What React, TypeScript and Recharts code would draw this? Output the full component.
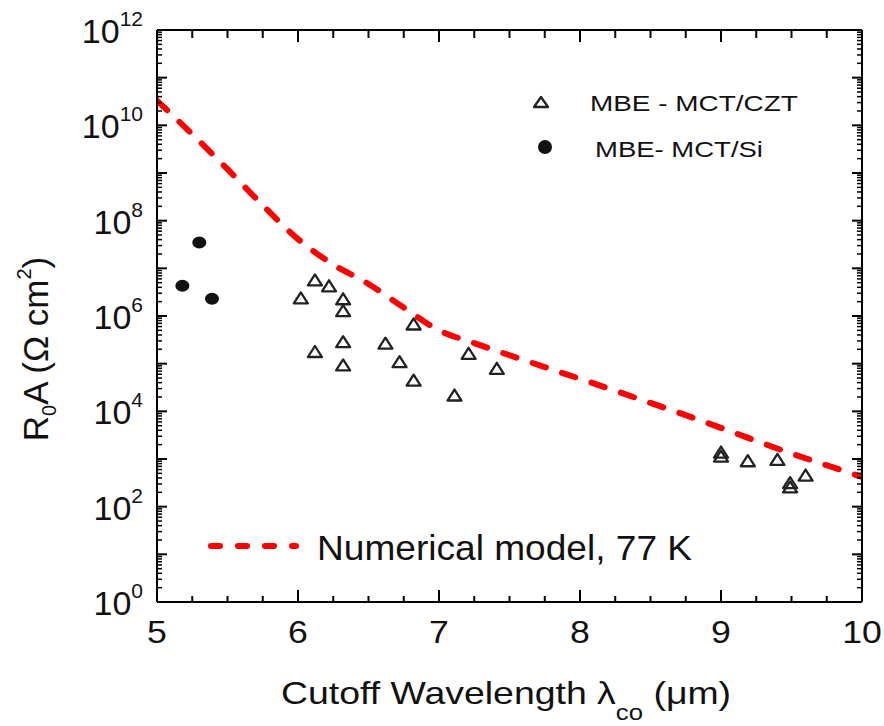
import { ComposedChart, XAxis, YAxis, Line, Scatter, Customized } from 'recharts';

const FONT = '"Liberation Sans", Arial, Helvetica, sans-serif';
const INK = '#111';

// numerical model, 77 K (dashed red curve)
const modelWavelength = [5, 5.25, 5.5, 5.75, 6, 6.25, 6.5, 6.75, 7, 7.25, 7.5, 7.75, 8, 8.25, 8.5, 8.75, 9, 9.25, 9.5, 9.75, 10];
const modelR0A = [3.3e10, 6.5e9, 1.2e9, 2.1e8, 4.1e7, 1.2e7, 4.7e6, 1.5e6, 5.0e5, 2.7e5, 1.5e5, 8.5e4, 4.8e4, 2.7e4, 1.5e4, 8.3e3, 4.5e3, 2.4e3, 1.3e3, 740, 420];

// MBE - MCT/CZT (open triangles)
const cztWavelength = [6.02, 6.12, 6.22, 6.32, 6.32, 6.82, 6.32, 6.62, 6.12, 6.72, 6.32, 7.21, 6.82, 7.41, 7.11, 9.0, 9.0, 9.19, 9.4, 9.49, 9.49, 9.6];
const cztR0A = [2.4e6, 5.7e6, 4.3e6, 2.3e6, 1.3e6, 6.8e5, 2.9e5, 2.7e5, 1.8e5, 1.1e5, 9.4e4, 1.65e5, 4.5e4, 8e4, 2.2e4, 1400, 1150, 920, 980, 320, 260, 460];

// MBE - MCT/Si (filled circles)
const siWavelength = [5.18, 5.3, 5.39];
const siR0A = [4.3e6, 3.5e7, 2.3e6];

// axes
const xTicks = [5, 5.25, 5.5, 5.75, 6, 6.25, 6.5, 6.75, 7, 7.25, 7.5, 7.75, 8, 8.25, 8.5, 8.75, 9, 9.25, 9.5, 9.75, 10];
const yDecades = [0, 1, 2, 3, 4, 5, 6, 7, 8, 9, 10, 11, 12];
const yMinorSteps = [2, 3, 4, 5, 6, 7, 8, 9];

const modelData = modelWavelength.map((x, i) => ({ x, y: modelR0A[i] }));
const cztData = cztWavelength.map((x, i) => ({ x, y: cztR0A[i] }));
const siData = siWavelength.map((x, i) => ({ x, y: siR0A[i] }));

const majorExp = new Map<number, number>();
const yTicks: number[] = [];
yDecades.forEach((e) => {
  const v = 10 ** e;
  majorExp.set(v, e);
  yTicks.push(v);
  if (e < 12) yMinorSteps.forEach((m) => yTicks.push(m * v));
});
yTicks.sort((a, b) => a - b);

const LeftYTick = ({ x, y, payload }: any) => {
  const exp = majorExp.get(payload.value);
  const major = exp !== undefined;
  return (
    <g>
      <line x1={x} x2={x + (major ? 10 : 5)} y1={y} y2={y} stroke="#000" strokeWidth={major ? 2 : 1.5} />
      {major && exp % 2 === 0 && (
        <text x={x - 14} y={y + 13} textAnchor="end" fontFamily={FONT} fill={INK}>
          <tspan fontSize={34}>10</tspan>
          <tspan fontSize={21} dy={-17}>{exp}</tspan>
        </text>
      )}
    </g>
  );
};

const RightYTick = ({ x, y, payload }: any) => {
  const major = majorExp.has(payload.value);
  return <line x1={x} x2={x - (major ? 10 : 5)} y1={y} y2={y} stroke="#000" strokeWidth={major ? 2 : 1.5} />;
};

const BottomXTick = ({ x, y, payload }: any) => {
  const major = Number.isInteger(payload.value);
  return (
    <g>
      <line x1={x} x2={x} y1={y} y2={y - (major ? 12 : 6)} stroke="#000" strokeWidth={2} />
      {major && (
        <text transform={`translate(${x},${y + 41}) scale(1.15,1)`} textAnchor="middle" fontSize={31} fontFamily={FONT} fill={INK}>
          {payload.value}
        </text>
      )}
    </g>
  );
};

const TopXTick = ({ x, y, payload }: any) => {
  const major = Number.isInteger(payload.value);
  return <line x1={x} x2={x} y1={y} y2={y + (major ? 12 : 8)} stroke="#000" strokeWidth={2} />;
};

const Triangle = ({ cx, cy }: any) => (
  <path d={`M${cx},${cy - 5.5} L${cx + 7},${cy + 5.5} L${cx - 7},${cy + 5.5} Z`} fill="none" stroke="#222" strokeWidth={2.3} strokeLinejoin="round" />
);

const Dot = ({ cx, cy }: any) => <ellipse cx={cx} cy={cy} rx={7} ry={6} fill={INK} />;

const Annotations = () => (
  <g fontFamily={FONT} fill={INK}>
    <text transform="translate(48,349) rotate(-90)" textAnchor="middle" fontSize={35}>
      R<tspan fontSize={20} dy={8}>0</tspan>
      <tspan dy={-8}>A (Ω cm</tspan>
      <tspan fontSize={20} dy={-17}>2</tspan>
      <tspan dy={17}>)</tspan>
    </text>
    <text transform="translate(506,704) scale(1.17,1)" textAnchor="middle" fontSize={32}>
      Cutoff Wavelength λ<tspan fontSize={22} dy={16}>co</tspan>
      <tspan dy={-16}>{' (μm)'}</tspan>
    </text>

    <path d="M541,97 L548,107 L534,107 Z" fill="none" stroke="#222" strokeWidth={2.3} strokeLinejoin="round" />
    <text transform="translate(590,111) scale(1.27,1)" fontSize={22}>MBE - MCT/CZT</text>
    <ellipse cx={545} cy={147} rx={7} ry={7} fill={INK} />
    <text transform="translate(595,157) scale(1.25,1)" fontSize={22}>MBE- MCT/Si</text>

    <line x1={211} x2={296} y1={546} y2={546} stroke="#f00" strokeWidth={6} strokeLinecap="round" strokeDasharray="9 18" />
    <text transform="translate(317,560) scale(1.06,1)" fontSize={35}>Numerical model, 77 K</text>
  </g>
);

export default function App() {
  return (
    <div style={{ position: 'absolute', left: 0, top: 0, width: 884, height: 726, background: '#fff' }}>
      <ComposedChart width={884} height={726} margin={{ top: 0, right: 0, bottom: 0, left: 0 }}>
        <XAxis
          xAxisId="b"
          type="number"
          dataKey="x"
          domain={[5, 10]}
          allowDataOverflow
          ticks={xTicks}
          interval={0}
          height={124}
          tickSize={0}
          tickMargin={0}
          tickLine={false}
          axisLine={{ stroke: '#000', strokeWidth: 2 }}
          tick={(p: any) => <BottomXTick {...p} />}
        />
        <XAxis
          xAxisId="t"
          orientation="top"
          type="number"
          dataKey="x"
          domain={[5, 10]}
          allowDataOverflow
          ticks={xTicks}
          interval={0}
          height={30}
          tickSize={0}
          tickMargin={0}
          tickLine={false}
          axisLine={{ stroke: '#000', strokeWidth: 2 }}
          tick={(p: any) => <TopXTick {...p} />}
        />
        <YAxis
          yAxisId="l"
          type="number"
          scale="log"
          domain={[1, 1e12]}
          allowDataOverflow
          ticks={yTicks}
          interval={0}
          width={157}
          tickSize={0}
          tickMargin={0}
          tickLine={false}
          axisLine={{ stroke: '#000', strokeWidth: 2 }}
          tick={(p: any) => <LeftYTick {...p} />}
        />
        <YAxis
          yAxisId="r"
          orientation="right"
          type="number"
          scale="log"
          domain={[1, 1e12]}
          allowDataOverflow
          ticks={yTicks}
          interval={0}
          width={22}
          tickSize={0}
          tickMargin={0}
          tickLine={false}
          axisLine={{ stroke: '#000', strokeWidth: 2 }}
          tick={(p: any) => <RightYTick {...p} />}
        />
        <Line
          xAxisId="b"
          yAxisId="l"
          data={modelData}
          dataKey="y"
          type="monotone"
          stroke="#f00"
          strokeWidth={6}
          strokeDasharray="14 17"
          strokeLinecap="round"
          dot={false}
          activeDot={false}
          isAnimationActive={false}
        />
        <Scatter xAxisId="b" yAxisId="l" data={cztData} dataKey="y" shape={(p: any) => <Triangle {...p} />} isAnimationActive={false} />
        <Scatter xAxisId="b" yAxisId="l" data={siData} dataKey="y" shape={(p: any) => <Dot {...p} />} isAnimationActive={false} />
        <Customized component={<Annotations />} />
      </ComposedChart>
    </div>
  );
}
